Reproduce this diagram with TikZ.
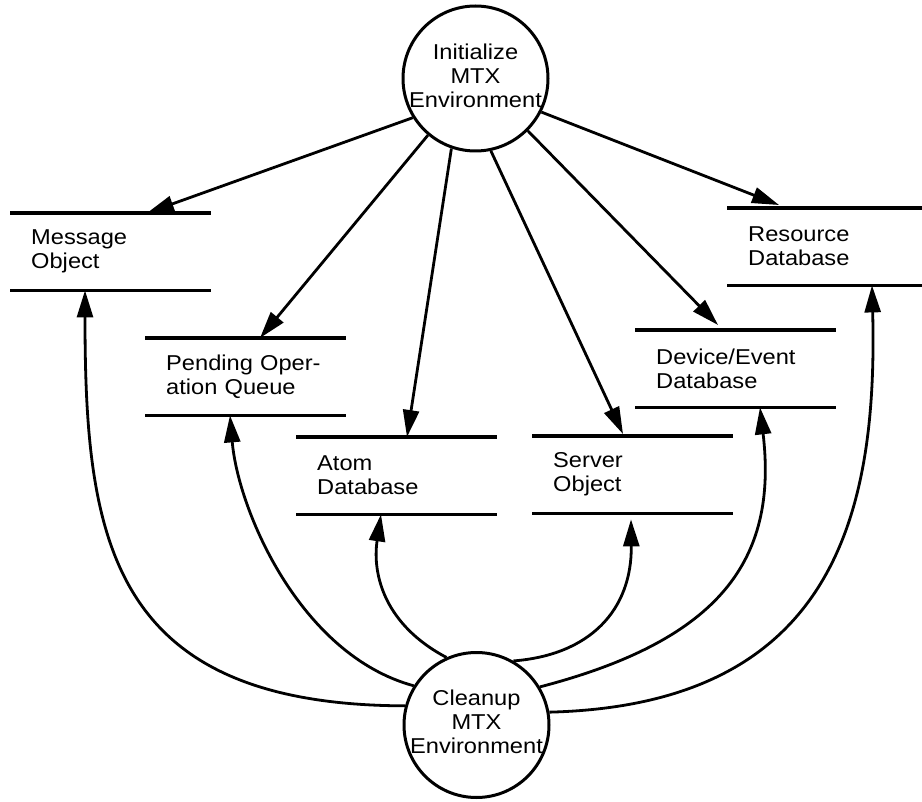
\documentclass[tikz,border=0pt]{standalone}
\usepackage{fontspec}
\setmainfont{Liberation Sans}[FakeStretch=1.1]
\usetikzlibrary{arrows.meta}
\begin{document}
\begin{tikzpicture}[x=1pt,y=-1pt,
  every node/.style={font=\fontsize{21.5}{24}\selectfont},
  process/.style={circle,draw,line width=3pt,minimum size=145pt,inner sep=0pt},
  proctext/.style={inner sep=0pt,align=center},
  store/.style={anchor=north west,minimum width=201pt,minimum height=77pt,
    inner xsep=21pt,inner ysep=0pt,text width=159pt,align=left},
  flow/.style={line width=2.8pt,-{Triangle[length=27pt,width=16pt]}},
  rail/.style={line width=3.2pt}]
\useasboundingbox (0,0) rectangle (922,802);

% processes
\node[process] (init) at (475.5,78.5) {};
\node[proctext] (initlabel) at ([yshift=3pt]init.center) {Initialize\\MTX\\Environment};
\node[process] (clean) at (476.5,725) {};
\node[proctext] (cleanlabel) at ([yshift=3pt]clean.center) {Cleanup\\MTX\\Environment};

% data stores
\node[store] (msg)  at (10,213)  {Message\\Object};
\node[store] (pend) at (145,338) {Pending Oper-\\ation Queue};
\node[store] (atom) at (296,437) {Atom\\Database};
\node[store] (serv) at (532,436) {Server\\Object};
\node[store] (dev)  at (635,330) {Device/Event\\Database};
\node[store,minimum width=195pt,text width=153pt] (res) at (727,208) {Resource\\Database};
\foreach \s in {msg,pend,atom,serv,dev,res}{
  \draw[rail] (\s.north west) -- (\s.north east);
  \draw[rail] (\s.south west) -- (\s.south east);
}

% initialisation flows
\draw[flow] (init.212) -- ([xshift=137pt]msg.north west);
\draw[flow] (init.230) -- ([xshift=115pt]pend.north west);
\draw[flow] (init.251) -- ([xshift=111pt]atom.north west);
\draw[flow] (init.282) -- ([xshift=91pt,yshift=2pt]serv.north west);
\draw[flow] (init.315) -- ([xshift=83pt,yshift=5pt]dev.north west);
\draw[flow] (init.333) -- ([xshift=52pt,yshift=3pt]res.north west);

% cleanup flows
\draw[flow] (clean.165) .. controls (110,705) and (85,540) .. ([xshift=75pt]msg.south west);
\draw[flow] (clean.148) .. controls (300,655) and (238,510) .. ([xshift=85pt]pend.south west);
\draw[flow] (clean.114) .. controls (385,625) and (372,575) .. ([xshift=85pt]atom.south west);
\draw[flow] (clean.60) .. controls (590,655) and (632,610) .. ([xshift=99pt,yshift=-6pt]serv.south west);
\draw[flow] (clean.31) .. controls (720,640) and (778,560) .. ([xshift=125pt]dev.south west);
\draw[flow] (clean.10) .. controls (830,705) and (878,520) .. ([xshift=145pt]res.south west);
\end{tikzpicture}
\end{document}
